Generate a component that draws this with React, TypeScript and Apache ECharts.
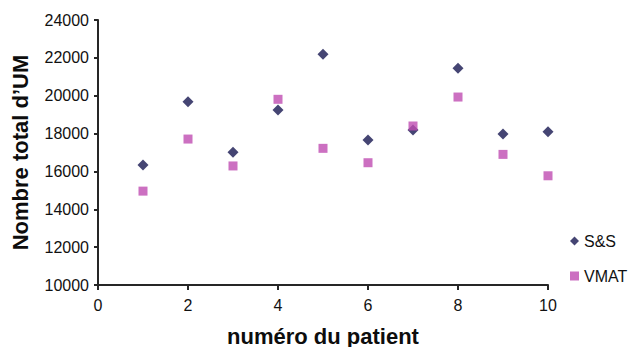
import React, { useEffect, useRef } from "react";
import * as echarts from "echarts";

const patients = [1, 2, 3, 4, 5, 6, 7, 8, 9, 10];
const ssValues = [16340, 19680, 17010, 19240, 22190, 17660, 18190, 21450, 17980, 18100];
const vmatValues = [14960, 17710, 16290, 19810, 17220, 16460, 18400, 19930, 16900, 15770];
const seriesNames = ["S&S", "VMAT"];
const xTitle = "numéro du patient";
const yTitle = "Nombre total d\u2019UM";

export default function App() {
  const ref = useRef<HTMLDivElement>(null);
  useEffect(() => {
    if (!ref.current) return;
    const chart = echarts.init(ref.current, null, { renderer: "svg" });
    const font = "'Liberation Sans', Arial, sans-serif";
    const axisColor = "#262626";
    chart.setOption({
      animation: false,
      backgroundColor: "#ffffff",
      grid: {
        left: 98,
        right: 86,
        top: 20,
        bottom: 62,
        containLabel: false,
        outerBoundsMode: "none",
      },
      legend: {
        orient: "vertical",
        left: 565,
        top: 227,
        itemWidth: 9,
        itemHeight: 9,
        itemGap: 17,
        data: [
          { name: seriesNames[0], icon: "diamond" },
          { name: seriesNames[1], icon: "rect" },
        ],
        textStyle: { fontFamily: font, fontSize: 16, color: "#111", lineHeight: 18 },
      },
      xAxis: {
        type: "value",
        min: 0,
        max: 10,
        interval: 2,
        name: xTitle,
        nameLocation: "middle",
        nameGap: 40,
        nameTextStyle: { fontFamily: font, fontSize: 22, fontWeight: "bold", color: "#0d0d0d" },
        axisLine: { show: true, onZero: false, lineStyle: { color: axisColor, width: 2 } },
        axisTick: { show: true, length: 5, lineStyle: { color: axisColor, width: 2 } },
        axisLabel: { fontFamily: font, fontSize: 16, color: "#111", margin: 12 },
        splitLine: { show: false },
      },
      yAxis: {
        type: "value",
        min: 10000,
        max: 24000,
        interval: 2000,
        name: yTitle,
        nameLocation: "middle",
        nameGap: 67,
        nameTextStyle: { fontFamily: font, fontSize: 22, fontWeight: "bold", color: "#0d0d0d" },
        axisLine: { show: true, lineStyle: { color: axisColor, width: 2 } },
        axisTick: { show: true, length: 4, lineStyle: { color: axisColor, width: 2 } },
        axisLabel: {
          fontFamily: font,
          fontSize: 16,
          color: "#111",
          margin: 9,
          formatter: (v: number) => String(v),
        },
        splitLine: { show: false },
      },
      series: [
        {
          name: seriesNames[0],
          type: "scatter",
          symbol: "diamond",
          symbolSize: 11,
          itemStyle: { color: "#161650" },
          data: patients.map((p, i) => [p, ssValues[i]]),
        },
        {
          name: seriesNames[1],
          type: "scatter",
          symbol: "rect",
          symbolSize: 9,
          itemStyle: { color: "#bf4cb2" },
          data: patients.map((p, i) => [p, vmatValues[i]]),
        },
      ],
    });
    return () => chart.dispose();
  }, []);
  return <div ref={ref} style={{ width: 634, height: 347, position: "absolute", left: 0, top: 0 }} />;
}
